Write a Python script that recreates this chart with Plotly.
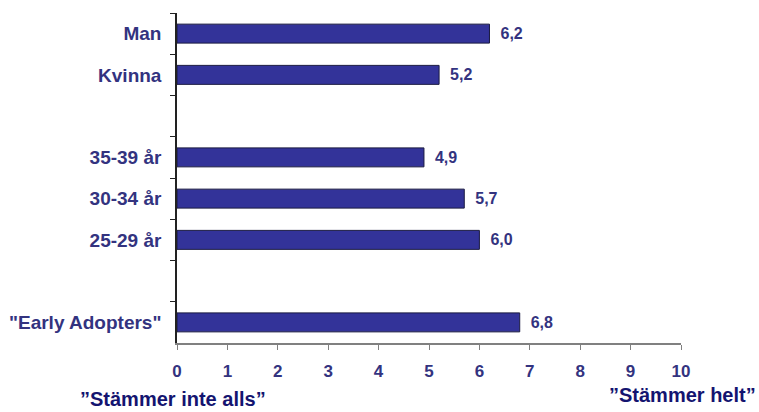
import plotly.graph_objects as go

categories = ["Man", "Kvinna", " ", "35-39 år", "30-34 år", "25-29 år", "  ", "\"Early Adopters\""]
values = [6.2, 5.2, None, 4.9, 5.7, 6.0, None, 6.8]
x_ticks = list(range(0, 11))

labels = ["" if v is None else f"{v:.1f}".replace(".", ",") for v in values]

label_color = "#33337f"
font_family = "Liberation Sans, Arial, sans-serif"

fig = go.Figure(go.Bar(
    y=categories,
    x=values,
    orientation="h",
    marker=dict(color="#333399", line=dict(color="#1a1a40", width=1)),
    text=labels,
    texttemplate="\u2002<b>%{text}</b>",
    textposition="outside",
    cliponaxis=False,
    textfont=dict(family=font_family, size=16, color=label_color),
))

fig.update_layout(
    width=759, height=412,
    margin=dict(l=177, r=78, t=13, b=69, autoexpand=False),
    plot_bgcolor="white", paper_bgcolor="white",
    bargap=0.54,
    showlegend=False,
    font=dict(family=font_family, color=label_color),
)

fig.update_yaxes(
    type="category",
    categoryorder="array", categoryarray=categories,
    range=[7.5, -0.5],
    automargin=False,
    showline=True, linecolor="#222222", linewidth=1.5,
    ticks="outside", tickson="boundaries", ticklen=5, tickcolor="#222222",
    ticklabelstandoff=10,
    showgrid=False, zeroline=False,
    tickfont=dict(family=font_family, size=19, color=label_color, weight="bold"),
)

fig.update_xaxes(
    range=[0, 10],
    tickvals=x_ticks,
    automargin=False,
    showline=True, linecolor="#808080", linewidth=2,
    ticks="outside", ticklen=5, tickcolor="#808080",
    ticklabelstandoff=7,
    showgrid=False, zeroline=False,
    tickfont=dict(family=font_family, size=17, color=label_color, weight="bold"),
)

fig.add_annotation(
    text="<b>\u201dStämmer inte alls\u201d</b>",
    xref="paper", yref="paper", x=-0.008, y=-0.206,
    xanchor="center", yanchor="bottom", showarrow=False, borderpad=0,
    font=dict(family=font_family, size=20, color="#141470"),
)
fig.add_annotation(
    text="<b>\u201dStämmer helt\u201d</b>",
    xref="paper", yref="paper", x=1.151, y=-0.158,
    xanchor="right", yanchor="middle", showarrow=False, borderpad=0,
    font=dict(family=font_family, size=20, color="#141470"),
)

fig.write_html("out.html", config={"displayModeBar": False},
               post_script="document.body.style.margin='0';")
